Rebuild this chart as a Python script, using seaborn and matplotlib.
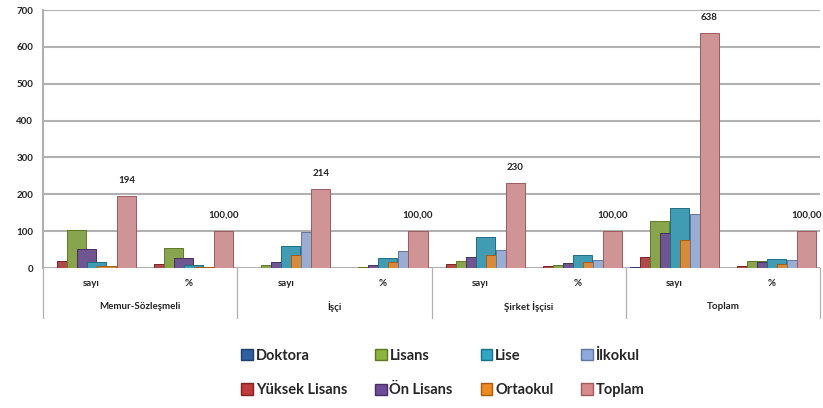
import pandas as pd
import seaborn as sns
import matplotlib.pyplot as plt
from matplotlib.patches import Patch

# category structure
groups = ['Memur-Sözleşmeli', 'İşçi', 'Şirket İşçisi', 'Toplam']
measures = ['sayı', '%']
levels = ['Doktora', 'Yüksek Lisans', 'Lisans', 'Ön Lisans',
          'Lise', 'Ortaokul', 'İlkokul', 'Toplam']

# values per category column, in the order of `levels`
memur_sayi = [0, 20, 104, 51, 15, 6, 0, 194]
memur_pct = [0, 10.31, 53.61, 26.29, 7.73, 3.09, 0, 100]
isci_sayi = [0, 0, 8, 15, 60, 34, 97, 214]
isci_pct = [0, 0, 3.74, 7.01, 28.04, 15.89, 45.33, 100]
sirket_sayi = [0, 10, 20, 31, 83, 36, 50, 230]
sirket_pct = [0, 4.35, 8.70, 13.48, 36.09, 15.65, 21.74, 100]
toplam_sayi = [2, 30, 128, 96, 162, 76, 147, 638]
toplam_pct = [0.31, 4.70, 20.06, 15.05, 25.39, 11.91, 23.04, 100]

colors = ['#2F5F9E', '#C0393B', '#8DB43E', '#6E4C9A',
          '#2EA6C6', '#EE8A24', '#8FAADA', '#D98A8C']
edges = ['#1E3F6A', '#7E2224', '#5C7A25', '#47305F',
         '#1C6F86', '#A85C12', '#5F76A0', '#9E5A5C']

columns = [memur_sayi, memur_pct, isci_sayi, isci_pct,
           sirket_sayi, sirket_pct, toplam_sayi, toplam_pct]
keys = [g + '|' + m for g in groups for m in measures]

rows = []
for key, vals in zip(keys, columns):
    for lev, v in zip(levels, vals):
        rows.append({'kat': key, 'egitim': lev, 'deger': v})
df = pd.DataFrame(rows)

sns.set_style('white')
plt.rcParams['font.family'] = ['Lato', 'DejaVu Sans']

fig = plt.figure(figsize=(8.23, 4.08), dpi=100)
ax = fig.add_axes([43 / 823, 1 - 268 / 408, 777 / 823, 258 / 408])

sns.barplot(data=df, x='kat', y='deger', hue='egitim', order=keys,
            hue_order=levels, palette=colors, width=0.825, errorbar=None,
            legend=False, ax=ax, zorder=3)

# overlapping (pseudo-3D) columns like the original
bar_w = 0.196
for cont, ec in zip(ax.containers, edges):
    for p in cont:
        c = p.get_x() + p.get_width() / 2
        p.set_width(bar_w)
        p.set_x(c - bar_w / 2)
        p.set_edgecolor(ec)
        p.set_linewidth(0.7)

# labels on the Toplam series
lbls = []
for key, vals in zip(keys, columns):
    v = vals[-1]
    lbls.append(f'{v:.0f}' if key.endswith('sayı') else f'{v:.2f}'.replace('.', ','))
ax.bar_label(ax.containers[-1], labels=lbls, padding=8, fontsize=7,
             fontweight='bold', color='#222222')

ax.set_ylim(0, 700)
ax.set_xlim(-0.5, 7.5)
ax.set_yticks(range(0, 701, 100))
ax.yaxis.grid(True, color='#B0B0B0', linewidth=1.5, zorder=0)
ax.set_axisbelow(True)
for s in ['top', 'right', 'bottom']:
    ax.spines[s].set_visible(False)
ax.spines['left'].set_color('#B0B0B0')
ax.spines['left'].set_linewidth(1.5)

ax.set_xticks(range(len(keys)))
ax.set_xticklabels([k.split('|')[1] for k in keys])
ax.tick_params(axis='x', length=0, pad=8, labelsize=7)
ax.tick_params(axis='y', length=0, pad=7, labelsize=7)
for t in ax.get_xticklabels() + ax.get_yticklabels():
    t.set_fontweight('bold')
    t.set_color('#222222')
ax.set_xlabel('')
ax.set_ylabel('')

# two-level category axis
xt = ax.get_xaxis_transform()
for x in [-0.5, 1.5, 3.5, 5.5, 7.5]:
    ax.plot([x, x], [0, -0.195], transform=xt, color='#B0B0B0',
            linewidth=0.9, clip_on=False)
for i, g in enumerate(groups):
    ax.text(2 * i + 0.5, -0.151, g, transform=xt, ha='center', va='center',
            fontsize=7, fontweight='bold', color='#222222')

handles = [Patch(facecolor=c, edgecolor=e, label=l)
           for c, e, l in zip(colors, edges, levels)]
leg = fig.legend(handles=handles, ncol=4, loc='center',
                 bbox_to_anchor=(0.538, 0.086), frameon=False,
                 prop={'size': 10.5, 'weight': 'bold'},
                 handlelength=0.8, handleheight=0.8, handletextpad=0.2,
                 columnspacing=1.9, labelspacing=1.4)

fig.savefig('out.png', dpi=100)
